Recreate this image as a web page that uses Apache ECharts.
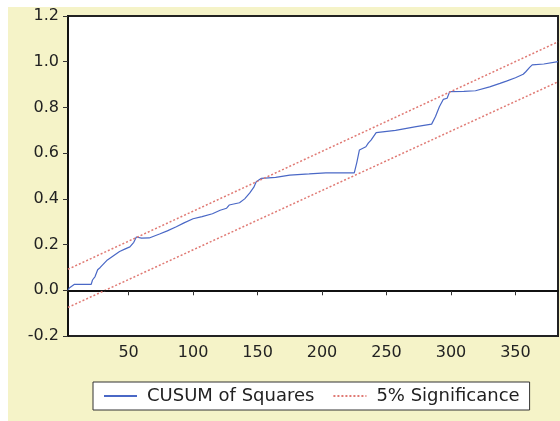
<!DOCTYPE html>
<html>
<head>
<meta charset="utf-8">
<script src="https://cdn.jsdelivr.net/npm/echarts@6/dist/echarts.min.js"></script>
<style>
  html, body { margin: 0; padding: 0; background: #fff; }
  #bg { position: absolute; left: 8px; top: 7px; width: 552px; height: 414px; background: #f5f3c8; }
  #chart { position: absolute; left: 0; top: 0; width: 560px; height: 421px; }
</style>
</head>
<body>
<div id="bg"></div>
<div id="chart"></div>
<script>
var obs = [3, 4, 8, 21, 22, 24, 26, 28, 33, 38, 43, 47, 51, 54, 56, 60, 66, 74, 80, 87,
           93, 100, 107, 115, 121, 126, 128, 136, 140, 144, 147, 149, 153, 164, 175, 190, 203, 225, 227, 229,
           234, 236, 238, 242, 257, 273, 285, 288, 291, 294, 297, 299, 310, 319, 330, 338, 343, 350, 356, 358,
           361, 363, 372, 383];
var cusum = [0.0, 0.01, 0.026, 0.026, 0.045, 0.06, 0.09, 0.1, 0.13, 0.15, 0.17, 0.18, 0.19, 0.21, 0.233, 0.228, 0.229, 0.246, 0.26, 0.278,
             0.295, 0.313, 0.322, 0.335, 0.35, 0.359, 0.373, 0.383, 0.40, 0.426, 0.45, 0.475, 0.49, 0.494, 0.504, 0.509, 0.514, 0.514, 0.56, 0.614,
             0.628, 0.645, 0.657, 0.69, 0.70, 0.716, 0.727, 0.76, 0.803, 0.835, 0.84, 0.869, 0.87, 0.873, 0.89, 0.905, 0.915, 0.93, 0.945, 0.956,
             0.975, 0.986, 0.99, 1.0];
// 5% significance bands (end points)
var bandX = [3, 383];
var upperBand = [0.092, 1.087];
var lowerBand = [-0.075, 0.912];
var xTicks = [50, 100, 150, 200, 250, 300, 350];

function pairs(xs, ys) {
    var out = [];
    for (var i = 0; i < xs.length; i++) {
        out.push([xs[i], ys[i]]);
    }
    return out;
}

var myChart = echarts.init(document.getElementById('chart'));
var font = 'DejaVu Sans';
var red = '#e07a74';
var blue = '#4a68c6';

option = {
    animation: false,
    backgroundColor: 'transparent',
    grid: {
        left: 68, top: 16, right: 2, bottom: 85,
        show: true,
        backgroundColor: '#fff',
        borderColor: '#222',
        borderWidth: 2
    },
    legend: {
        left: 93, top: 382,
        padding: [5, 10],
        itemGap: 18,
        itemWidth: 33,
        itemHeight: 10,
        backgroundColor: '#fff',
        borderColor: '#333',
        borderWidth: 1,
        borderRadius: 0,
        itemStyle: { opacity: 0 },
        data: ['CUSUM of Squares', '5% Significance'],
        textStyle: { fontFamily: font, fontSize: 18, color: '#222', padding: [0, 0, 0, 5] }
    },
    xAxis: {
        type: 'value',
        min: 3,
        max: 383,
        splitLine: { show: false },
        axisLine: { lineStyle: { color: '#111', width: 2 } },
        axisTick: { customValues: xTicks, length: 5, lineStyle: { color: '#333' } },
        axisLabel: { customValues: xTicks, margin: 9, fontFamily: font, fontSize: 16, color: '#222' }
    },
    yAxis: {
        type: 'value',
        min: -0.2,
        max: 1.2,
        interval: 0.2,
        splitLine: { show: false },
        axisLine: { show: true, lineStyle: { color: '#111', width: 2 } },
        axisTick: { length: 5, lineStyle: { color: '#333' } },
        axisLabel: {
            margin: 9, fontFamily: font, fontSize: 16, color: '#222',
            formatter: function (v) { return v.toFixed(1); }
        }
    },
    series: [{
        name: 'CUSUM of Squares',
        type: 'line',
        symbol: 'none',
        data: pairs(obs, cusum),
        lineStyle: { color: blue, width: 1.2 },
        itemStyle: { color: blue },
        z: 3,
        markLine: {
            silent: true,
            symbol: 'none',
            label: { show: false },
            lineStyle: { color: '#111', type: 'solid', width: 1 },
            data: [{ yAxis: 0 }]
        }
    }, {
        name: '5% Significance',
        type: 'line',
        symbol: 'none',
        data: pairs(bandX, upperBand),
        lineStyle: { color: red, width: 1.5, type: [2, 2] },
        itemStyle: { color: red }
    }, {
        name: '5% Significance',
        type: 'line',
        symbol: 'none',
        data: pairs(bandX, lowerBand),
        lineStyle: { color: red, width: 1.5, type: [2, 2] },
        itemStyle: { color: red }
    }]
};
myChart.setOption(option);
</script>
</body>
</html>
